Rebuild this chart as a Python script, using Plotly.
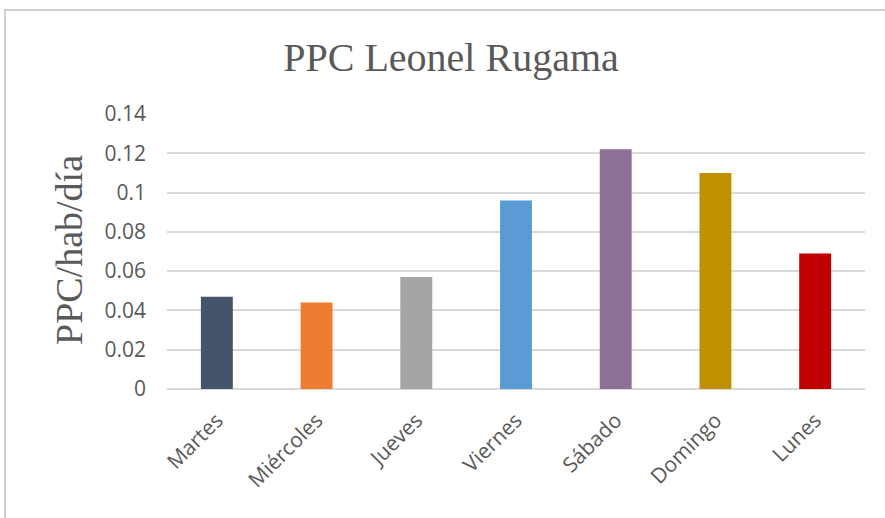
import plotly.graph_objects as go

days = ["Martes", "Miércoles", "Jueves", "Viernes", "Sábado", "Domingo", "Lunes"]
values = [0.047, 0.044, 0.057, 0.096, 0.122, 0.110, 0.069]
colors = ["#44546A", "#ED7D31", "#A5A5A5", "#5B9BD5", "#8E6F96", "#BF9000", "#C00000"]
tick_vals = [0, 0.02, 0.04, 0.06, 0.08, 0.1, 0.12, 0.14]
tick_text = ["0", "0.02", "0.04", "0.06", "0.08", "0.1", "0.12", "0.14"]

W, H = 885, 518
L, R, T, B = 167, 20, 114, 129
pw, ph = W - L - R, H - T - B

def px_x(px):
    return (px - L) / pw

def px_y(py):
    return (H - B - py) / ph

fig = go.Figure(go.Bar(x=days, y=values, marker=dict(color=colors, line=dict(width=0)),
                       width=0.32))

fig.update_layout(
    width=W, height=H,
    margin=dict(l=L, r=R, t=T, b=B),
    paper_bgcolor="white", plot_bgcolor="white",
    showlegend=False,
    title=dict(text="PPC Leonel Rugama", x=451 / W, xanchor="center", xref="container",
               y=1 - 57 / H, yanchor="middle", yref="container",
               font=dict(family="Liberation Serif", size=40, color="#595959")),
    xaxis=dict(tickangle=-45, tickfont=dict(family="Open Sans", size=21, color="#595959"),
               showgrid=False, showline=False, ticks="", ticklen=0, ticklabelstandoff=14),
    yaxis=dict(range=[0, 0.14], tickvals=tick_vals, ticktext=tick_text,
               tickfont=dict(family="Open Sans", size=21, color="#595959"),
               showgrid=True, gridcolor="#D9D9D9", gridwidth=1.5,
               zeroline=True, zerolinecolor="#D9D9D9", zerolinewidth=1.5,
               showline=False, ticks="", ticklabelstandoff=20),
    annotations=[dict(text="PPC/hab/día", xref="paper", yref="paper",
                      x=px_x(69), y=px_y(250), xanchor="center", yanchor="middle",
                      textangle=-90, showarrow=False,
                      font=dict(family="Liberation Serif", size=38, color="#595959"))],
    shapes=[dict(type="rect", xref="paper", yref="paper",
                 x0=px_x(5), x1=px_x(892), y0=px_y(530), y1=px_y(10),
                 line=dict(color="#D0D0D0", width=2), layer="below")],
)

fig.write_html("out.html", config={"displayModeBar": False},
               post_script="document.body.style.margin='0';")
